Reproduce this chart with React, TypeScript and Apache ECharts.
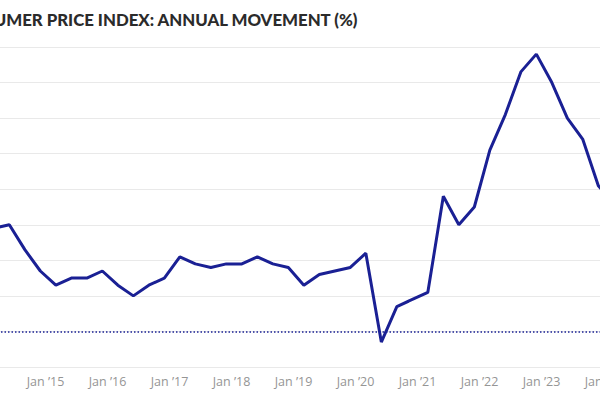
import React, { useEffect, useRef } from "react";
import * as echarts from "echarts";

const titleText = "CONSUMER PRICE INDEX: ANNUAL MOVEMENT (%)";

// Quarter-end months (year, month) and CPI annual movement (%)
const quarters: string[] = [
  "2014-03", "2014-06", "2014-09", "2014-12",
  "2015-03", "2015-06", "2015-09", "2015-12",
  "2016-03", "2016-06", "2016-09", "2016-12",
  "2017-03", "2017-06", "2017-09", "2017-12",
  "2018-03", "2018-06", "2018-09", "2018-12",
  "2019-03", "2019-06", "2019-09", "2019-12",
  "2020-03", "2020-06", "2020-09", "2020-12",
  "2021-03", "2021-06", "2021-09", "2021-12",
  "2022-03", "2022-06", "2022-09", "2022-12",
  "2023-03", "2023-06", "2023-09", "2023-12",
  "2024-03", "2024-06",
];
const cpiValues: number[] = [
  2.9, 3.0, 2.3, 1.7,
  1.3, 1.5, 1.5, 1.7,
  1.3, 1.0, 1.3, 1.5,
  2.1, 1.9, 1.8, 1.9,
  1.9, 2.1, 1.9, 1.8,
  1.3, 1.6, 1.7, 1.8,
  2.2, -0.3, 0.7, 0.9,
  1.1, 3.8, 3.0, 3.5,
  5.1, 6.1, 7.3, 7.8,
  7.0, 6.0, 5.4, 4.1,
  3.6, 3.8,
];
const yTicks = { min: -1, max: 8, step: 1 };
const xYears = { min: 2014, max: 2025, firstLabel: 2015, lastLabel: 2024 };

const NAVY = "#1a2094";

export default function App() {
  const ref = useRef<HTMLDivElement>(null);
  useEffect(() => {
    if (!ref.current) return;
    const chart = echarts.init(ref.current, undefined, { renderer: "svg" });
    const data = quarters.map((q, i) => {
      const [y, m] = q.split("-").map(Number);
      return [y + (m - 1) / 12, cpiValues[i]];
    });
    chart.setOption({
      animation: false,
      backgroundColor: "#ffffff",
      graphic: [
        {
          type: "text",
          right: 800 - 459,
          top: 10.5,
          style: {
            text: titleText,
            font: "900 16.8px Lato, sans-serif",
            fill: "#2b2b2b",
          },
        },
      ],
      grid: { left: 83.5, right: 34.5, top: 47, bottom: 33 },
      xAxis: {
        type: "value",
        min: xYears.min,
        max: xYears.max,
        interval: 1,
        axisLine: { show: false },
        axisTick: { show: false },
        splitLine: { show: false },
        axisLabel: {
          color: "#959595",
          fontSize: 12.5,
          fontFamily: "'Open Sans', sans-serif",
          margin: 8,
          formatter: (v: number) =>
            v >= xYears.firstLabel && v <= xYears.lastLabel
              ? "Jan \u2019" + String(v).slice(2)
              : "",
        },
      },
      yAxis: {
        type: "value",
        min: yTicks.min,
        max: yTicks.max,
        interval: yTicks.step,
        axisLine: { show: false },
        axisTick: { show: false },
        axisLabel: { show: false },
        splitLine: { lineStyle: { color: "#e9e9e9", width: 1 } },
      },
      series: [
        {
          type: "line",
          data,
          symbol: "none",
          lineStyle: { color: NAVY, width: 3 },
          z: 3,
          markLine: {
            silent: true,
            symbol: "none",
            label: { show: false },
            lineStyle: { color: NAVY, type: [1.5, 2], width: 1.5 },
            data: [{ yAxis: 0 }],
          },
        },
      ],
    });
    return () => chart.dispose();
  }, []);
  return (
    <div
      ref={ref}
      style={{ position: "fixed", left: -100, top: 0, width: 800, height: 400 }}
    />
  );
}
